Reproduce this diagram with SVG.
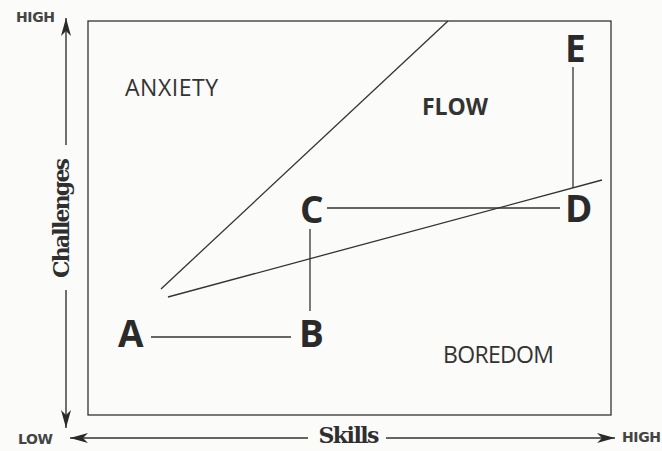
<svg xmlns="http://www.w3.org/2000/svg" width="662" height="451" viewBox="0 0 662 451">
<style>
.ln{stroke:#333;stroke-width:1.3;fill:none}
.ax{stroke:#333;stroke-width:1.4;fill:none}
.hl{font-family:"DejaVu Sans",sans-serif;font-weight:bold;font-size:14px;fill:#444}
.ser{font-family:"DejaVu Serif",serif;font-weight:bold;font-size:22px;fill:#2f2f2f}
.zone{font-family:"Open Sans",sans-serif;font-size:23px;fill:#333}
.pt{font-family:"Open Sans",sans-serif;font-weight:bold;font-size:37px;fill:#2a2a2a}
</style>
<defs>
<marker id="arr" viewBox="0 0 18 10" refX="18" refY="5" markerWidth="18" markerHeight="10" markerUnits="userSpaceOnUse" orient="auto-start-reverse">
<path d="M0,0 L18,5 L0,10 L5,5 Z" fill="#2a2a2a"/>
</marker>
</defs>
<rect width="662" height="451" fill="#fbfbf9"/>
<g id="frame">
<rect x="88" y="21" width="523" height="394" class="ln"/>
</g>
<g id="axes">
<line x1="66" y1="18" x2="66" y2="145" class="ax" marker-start="url(#arr)"/>
<line x1="66" y1="290" x2="66" y2="428" class="ax" marker-end="url(#arr)"/>
<line x1="70" y1="438" x2="308" y2="438" class="ax" marker-start="url(#arr)"/>
<line x1="386" y1="438" x2="615" y2="438" class="ax" marker-end="url(#arr)"/>
<text x="16" y="22" class="hl" textLength="39">HIGH</text>
<text x="18" y="444" class="hl" textLength="35">LOW</text>
<text x="622" y="442" class="hl" textLength="39">HIGH</text>
<text x="349" y="443" class="ser" text-anchor="middle" textLength="61">Skills</text>
<text transform="translate(69,218) rotate(-90)" class="ser" text-anchor="middle" textLength="120">Challenges</text>
</g>
<g id="regions">
<text x="125" y="96" class="zone" textLength="93">ANXIETY</text>
<text x="422" y="115" class="zone" font-weight="bold" textLength="66">FLOW</text>
<text x="443" y="363" class="zone" textLength="111">BOREDOM</text>
</g>
<g id="channel">
<line x1="161" y1="289" x2="448" y2="21" class="ln"/>
<line x1="168" y1="297" x2="602" y2="180" class="ln"/>
</g>
<g id="connectors">
<line x1="151" y1="337" x2="291" y2="337" class="ln"/>
<line x1="310" y1="311" x2="310" y2="229" class="ln"/>
<line x1="327" y1="208" x2="560" y2="208" class="ln"/>
<line x1="573" y1="188" x2="573" y2="67" class="ln"/>
</g>
<g id="node-A"><text x="118" y="347" class="pt" textLength="27">A</text></g>
<g id="node-B"><text x="299" y="347" class="pt" textLength="22">B</text></g>
<g id="node-C"><text x="300" y="223" class="pt" textLength="22">C</text></g>
<g id="node-D"><text x="565" y="222" class="pt" textLength="25">D</text></g>
<g id="node-E"><text x="565" y="62" class="pt" textLength="18">E</text></g>
</svg>
